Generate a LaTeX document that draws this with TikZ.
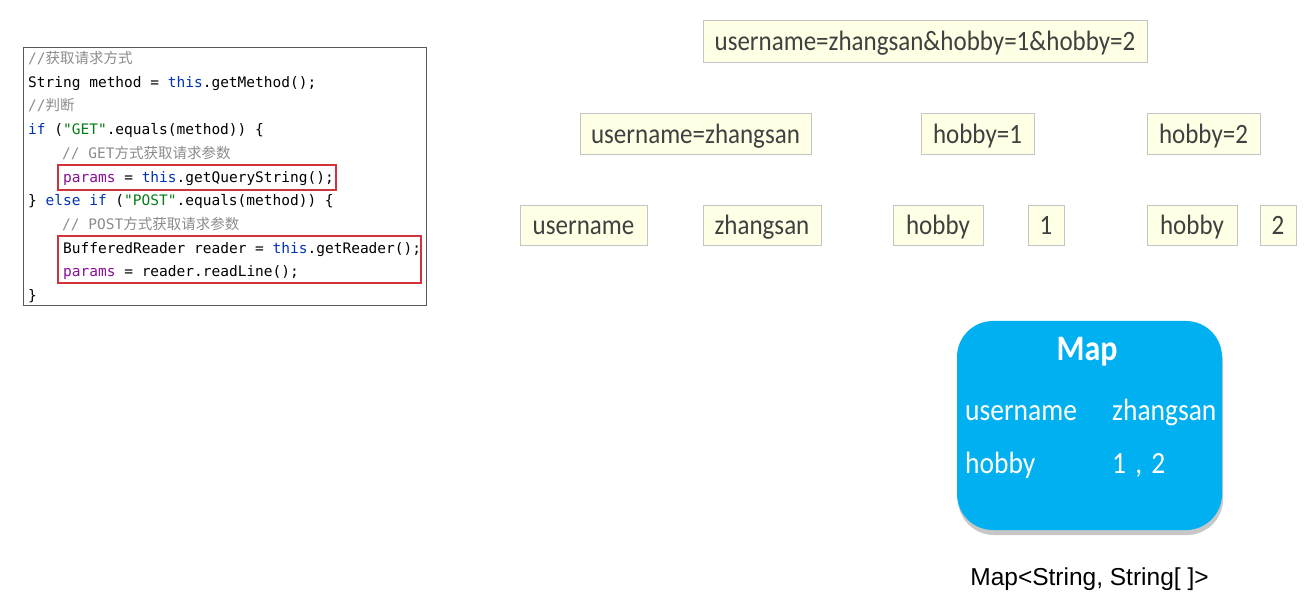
\documentclass[tikz,border=0pt]{standalone}
\usepackage{graphicx}
\usepackage{fontspec}
\setmainfont{Carlito}
\setmonofont{DejaVu Sans Mono}
\newfontfamily\cjk{Noto Sans CJK SC}
\newfontfamily\arialf{Liberation Sans}
\definecolor{kwc}{HTML}{0033B3}
\definecolor{strc}{HTML}{067D17}
\definecolor{varc}{HTML}{871094}
\definecolor{cmc}{HTML}{8C8C8C}
\definecolor{redbox}{HTML}{D0343A}
\definecolor{boxfill}{HTML}{FFFFE6}
\definecolor{boxline}{HTML}{C4C4C4}
\definecolor{txtc}{HTML}{404040}
\definecolor{mapblue}{HTML}{00B0F0}
\newcommand\kwd[1]{\textcolor{kwc}{#1}}
\newcommand\strd[1]{\textcolor{strc}{#1}}
\newcommand\vard[1]{\textcolor{varc}{#1}}
\newcommand\cmd[1]{\textcolor{cmc}{#1}}
\newcommand\vst[1]{\scalebox{1}[1.12]{#1}}
\begin{document}
\begin{tikzpicture}[x=1pt,y=-1pt,
  codeline/.style={anchor=base west,inner sep=0pt,font=\ttfamily\fontsize{14.5}{16}\selectfont},
  kv/.style={draw=boxline,fill=boxfill,line width=0.8pt,inner sep=0pt,text height=21pt,text depth=1pt,text=txtc,font=\fontsize{25}{28}\selectfont},
  maptxt/.style={anchor=base west,inner sep=0pt,text=white,font=\fontsize{27.5}{30}\selectfont}]
\useasboundingbox[fill=white] (0,0) rectangle (1307,601);
% code box
\draw[draw=black!65,line width=0.8pt] (23,47) rectangle (426,305);
\node[codeline] (c1) at (28,64) {\cmd{//{\cjk 获取请求方式}}};
\node[codeline] (c2) at (28,88) {String method = \kwd{this}.getMethod();};
\node[codeline] (c3) at (28,111) {\cmd{//{\cjk 判断}}};
\node[codeline] (c4) at (28,135) {\kwd{if} (\strd{"GET"}.equals(method)) \{};
\node[codeline] (c5) at (62,159) {\cmd{// GET{\cjk 方式获取请求参数}}};
\node[codeline] (c6) at (63,183) {\vard{params} = \kwd{this}.getQueryString();};
\node[codeline] (c7) at (28,206) {\} \kwd{else if} (\strd{"POST"}.equals(method)) \{};
\node[codeline] (c8) at (62,230) {\cmd{// POST{\cjk 方式获取请求参数}}};
\node[codeline] (c9) at (63,254) {BufferedReader reader = \kwd{this}.getReader();};
\node[codeline] (c10) at (63,277) {\vard{params} = reader.readLine();};
\node[codeline] (c11) at (28,301) {\}};
\draw[redbox,line width=1.4pt] (58,165) rectangle (336,190);
\draw[redbox,line width=1.4pt] (58,236) rectangle (421,283);
% key-value boxes
\node[kv,minimum width=444pt,minimum height=42pt] (all) at (925,41) {\vst{username=zhangsan\&hobby=1\&hobby=2}};
\node[kv,minimum width=231pt,minimum height=41pt] (p1) at (695.5,133.5) {\vst{username=zhangsan}};
\node[kv,minimum width=113pt,minimum height=41pt] (p2) at (977.5,133.5) {\vst{hobby=1}};
\node[kv,minimum width=113pt,minimum height=41pt] (p3) at (1203.5,133.5) {\vst{hobby=2}};
\node[kv,minimum width=127pt,minimum height=40pt] (k1) at (583.5,225) {\vst{username}};
\node[kv,minimum width=118pt,minimum height=40pt] (v1) at (762,225) {\vst{zhangsan}};
\node[kv,minimum width=90pt,minimum height=40pt] (k2) at (938,225) {\vst{hobby}};
\node[kv,minimum width=36pt,minimum height=40pt] (v2) at (1046,225) {\vst{1}};
\node[kv,minimum width=90pt,minimum height=40pt] (k3) at (1192,225) {\vst{hobby}};
\node[kv,minimum width=36pt,minimum height=40pt] (v3) at (1278,225) {\vst{2}};
% Map
\fill[black!22,rounded corners=36pt] (958,327) rectangle (1223,535);
\node[fill=mapblue,rounded corners=36pt,minimum width=265pt,minimum height=209pt,inner sep=0pt] (map) at (1089.5,425.5) {};
\node[inner sep=0pt,text=white,font=\bfseries\fontsize{32}{34}\selectfont] (maptitle) at (1087,352) {\vst{Map}};
\node[maptxt] (mk1) at (965,421) {\vst{username}};
\node[maptxt] (mv1) at (1112,421) {\vst{zhangsan}};
\node[maptxt] (mk2) at (965,473) {\vst{hobby}};
\node[maptxt] (mv2) at (1112,473) {\vst{1\,\,,\,\,2}};
\node[inner sep=0pt,font=\arialf\fontsize{24.5}{27}\selectfont] (type) at (1089.5,579) {Map<String, String[ ]>};
\end{tikzpicture}
\end{document}
